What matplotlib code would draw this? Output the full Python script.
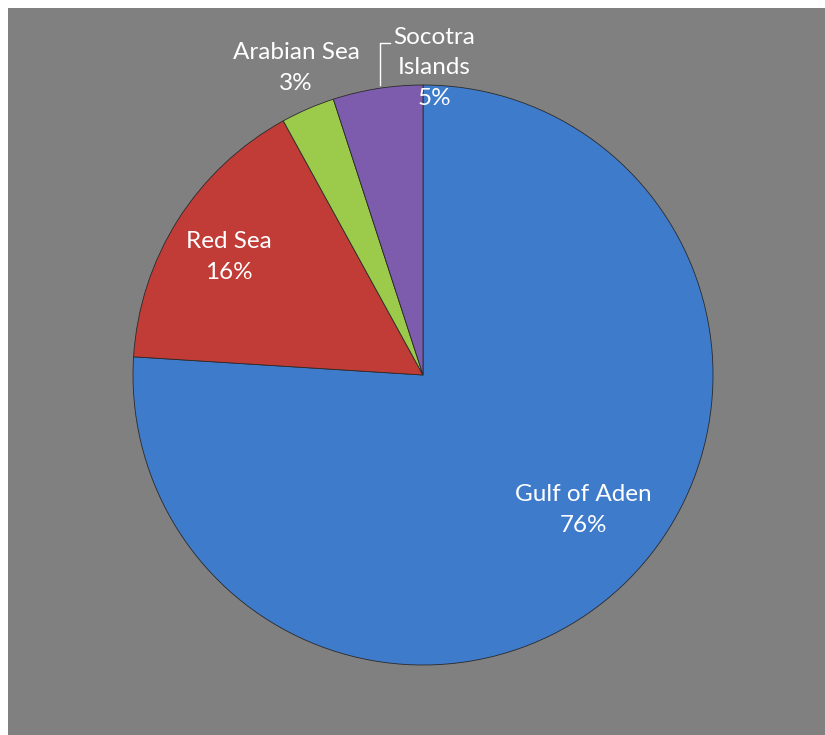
import matplotlib.pyplot as plt

# slice data
regions = ['Gulf of Aden', 'Red Sea', 'Arabian Sea', 'Socotra\nIslands']
shares = [76, 16, 3, 5]
colors = ['#3F7BCB', '#C13C37', '#9CCB4B', '#7D5CAE']

plt.rcParams['font.family'] = ['Lato', 'DejaVu Sans']

fig = plt.figure(figsize=(8.25, 7.35), dpi=100)

# gray chart area (white strip left and top)
bg = fig.add_axes([8 / 825, 0, 1 - 8 / 825, 1 - 8 / 735])
bg.set_facecolor('#808080')
bg.set_xticks([])
bg.set_yticks([])
for s in bg.spines.values():
    s.set_visible(False)

ax = fig.add_axes([133 / 825, 70 / 735, 580 / 825, 580 / 735])
ax.set_facecolor('none')
wedges, _ = ax.pie(shares, colors=colors, startangle=90, counterclock=False,
                   radius=1, wedgeprops=dict(edgecolor='#2a2a2a', linewidth=0.6))
ax.set_xlim(-1, 1)
ax.set_ylim(-1, 1)
ax.set_aspect('equal')
ax.axis('off')

# label positions in data units (layout only)
label_pos = [(0.552, -0.466), (-0.669, 0.407), (-0.438, 1.059), (0.038, 1.059)]
for name, val, (x, y) in zip(regions, shares, label_pos):
    ax.text(x, y, f'{name}\n{val}%', ha='center', va='center', color='white',
            fontsize=17.5, linespacing=1.55, clip_on=False)

# leader line for Socotra Islands
ax.plot([-0.148, -0.148, -0.114], [1.0, 1.145, 1.145], color='white', lw=1,
        clip_on=False)

fig.savefig('out.png', dpi=100)
